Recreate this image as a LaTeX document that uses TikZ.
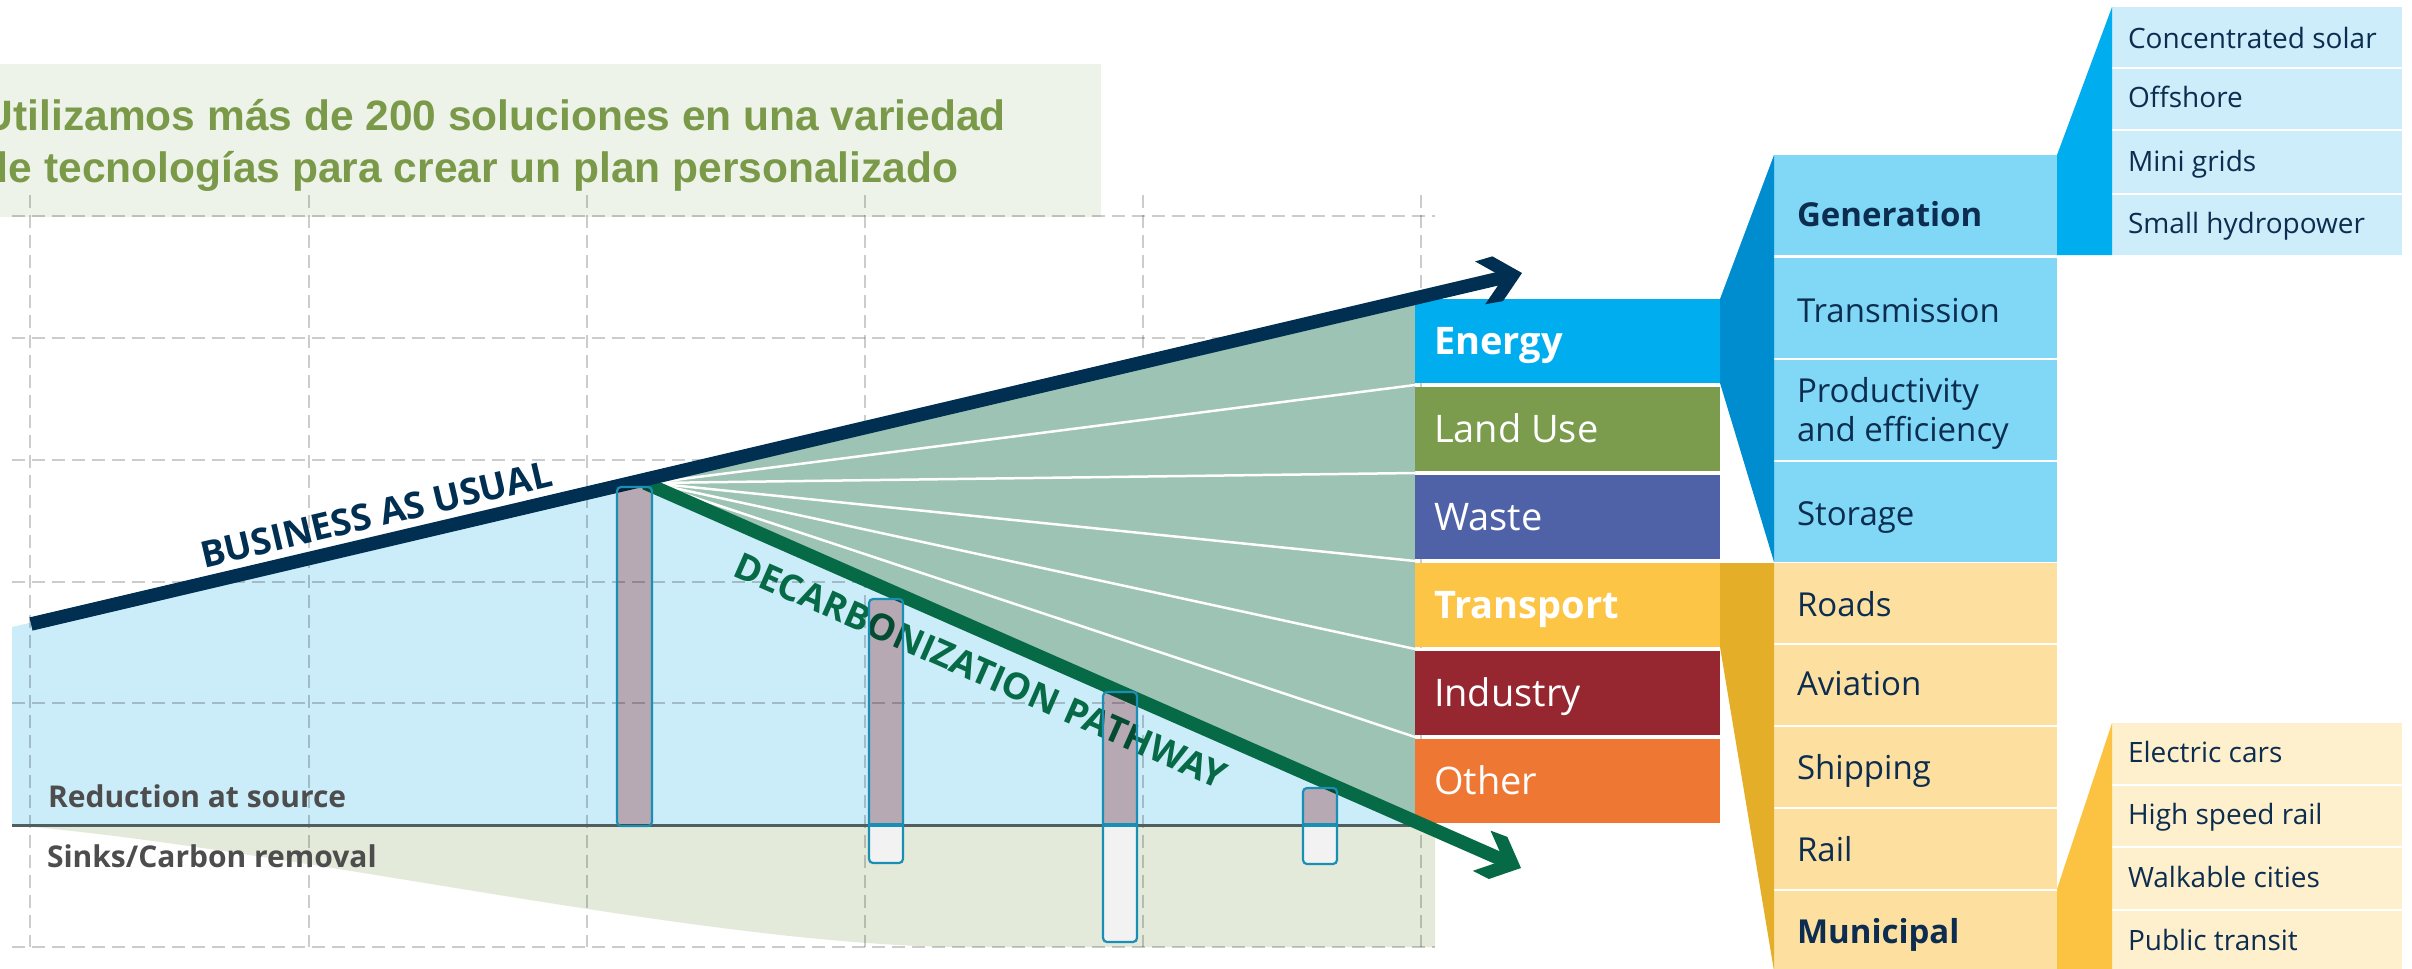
\documentclass[tikz,border=0pt]{standalone}
\usepackage{fontspec}
\newfontfamily\osans{Open Sans}
\newfontfamily\lsans{Liberation Sans}
\usetikzlibrary{calc}
\definecolor{cNavy}{HTML}{002F52}
\definecolor{cDecarb}{HTML}{056A45}
\definecolor{cFan}{HTML}{9CC3B4}
\definecolor{cBlue}{HTML}{CBECF9}
\definecolor{cLow}{HTML}{E3EADA}
\definecolor{cTitleBg}{HTML}{EDF3E8}
\definecolor{cTitle}{HTML}{7A9A4A}
\definecolor{cEnergy}{HTML}{00AEEF}
\definecolor{cLand}{HTML}{7B9B4D}
\definecolor{cWaste}{HTML}{4F62A8}
\definecolor{cTransport}{HTML}{FDC545}
\definecolor{cIndustry}{HTML}{96262F}
\definecolor{cOther}{HTML}{EE7733}
\definecolor{cEWedge}{HTML}{008DCF}
\definecolor{cESub}{HTML}{80D7F6}
\definecolor{cGWedge}{HTML}{00AEEF}
\definecolor{cGSub}{HTML}{CCEDF9}
\definecolor{cTWedge}{HTML}{E5AE28}
\definecolor{cTSub}{HTML}{FDE09F}
\definecolor{cMWedge}{HTML}{FCC343}
\definecolor{cMSub}{HTML}{FEF0CD}
\definecolor{cText}{HTML}{0C2D4F}
\definecolor{cGray}{HTML}{4D4D4D}
\definecolor{cBase}{HTML}{4F5F5F}
\definecolor{cBarMul}{RGB}{230,183,184}
\definecolor{cBarLow}{HTML}{F2F2F2}
\definecolor{cBarLine}{HTML}{1A8FB5}
\tikzset{
  plainbox/.style={rectangle, anchor=north west, draw=none, inner sep=0pt, outer sep=0pt},
  catbox/.style={plainbox, minimum width=305pt, minimum height=84pt},
  esub/.style={plainbox, fill=cESub, minimum width=283pt, minimum height=100pt},
  tsub/.style={plainbox, fill=cTSub, minimum width=283pt, minimum height=80pt},
  gsub/.style={plainbox, fill=cGSub, minimum width=290pt},
  msub/.style={plainbox, fill=cMSub, minimum width=290pt},
  gridline/.style={draw=black, draw opacity=0.2, line width=2.5pt, dash pattern=on 13pt off 7pt},
  fanline/.style={draw=white, line width=2.5pt},
  bauline/.style={draw=cNavy, line width=13.5pt},
  decline/.style={draw=cDecarb, line width=13.5pt},
  barmul/.style={fill=cBarMul, blend mode=multiply},
  barlow/.style={fill=cBarLow},
  barline/.style={draw=cBarLine, line width=2.2pt},
  titletext/.style={anchor=base west, text=cTitle, font=\lsans\bfseries\fontsize{42.5}{50}\selectfont},
  cattext/.style={anchor=base west, text=white, font=\osans\fontsize{38}{44}\selectfont},
  catbold/.style={anchor=base west, text=white, font=\osans\bfseries\fontsize{38}{44}\selectfont},
  subtext/.style={anchor=base west, text=cText, font=\osans\fontsize{33}{39}\selectfont},
  subbold/.style={anchor=base west, text=cText, font=\osans\bfseries\fontsize{33}{39}\selectfont},
  subsubtext/.style={anchor=base west, text=cText, font=\osans\fontsize{28}{33}\selectfont},
  pathlabel/.style={font=\osans\bfseries\fontsize{36.5}{42}\selectfont},
  regionlabel/.style={anchor=base west, text=cGray, font=\osans\bfseries\fontsize{30}{36}\selectfont},
}
\begin{document}
\begin{tikzpicture}[x=1pt,y=-1pt,every node/.style={inner sep=0pt,outer sep=0pt}]
\useasboundingbox (0,0) rectangle (2412,969);

% title
\node[plainbox, fill=cTitleBg, minimum width=1101pt, minimum height=153pt] (titlebox) at (0,64) {};
\node[titletext] (title1) at (-17,130) {Utilizamos más de 200 soluciones en una variedad};
\node[titletext] (title2) at (-17,182) {de tecnologías para crear un plan personalizado};

% key points
\coordinate (bauStart) at (31,624);
\coordinate (bauTip) at (1522,273);
\coordinate (decStart) at (645,483);
\coordinate (decTip) at (1521,868);
\coordinate (peak) at (651,483);

% regions
\fill[cBlue] (12,627) -- (650,478) -- (1423,825) -- (12,825) -- cycle;
\fill[cLow] (12,825) .. controls (300,850) and (700,945) .. (960,947) -- (1435,947) -- (1435,825) -- cycle;

% grid
\foreach \gx in {30,309,587,865,1143,1421} \draw[gridline] (\gx,195) -- (\gx,947);
\foreach \gy in {216,338,460,582,703,947} \draw[gridline] (12,\gy) -- (1435,\gy);

% baseline
\draw[cBase, line width=3pt] (12,825) -- (1423,825);

% fan
\fill[cFan] (peak) -- (1415,298) -- (1415,822) -- cycle;
\coordinate (g1) at (1415,385);
\coordinate (g2) at (1415,473);
\coordinate (g3) at (1415,561);
\coordinate (g4) at (1415,649);
\coordinate (g5) at (1415,737);
\foreach \g in {g1,g2,g3,g4,g5} \draw[fanline] (peak) -- (\g);

% category boxes
\node[catbox, fill=cEnergy] (energy) at (1415,299) {};
\node[catbox, fill=cLand] (landuse) at (1415,387) {};
\node[catbox, fill=cWaste] (waste) at (1415,475) {};
\node[catbox, fill=cTransport] (transport) at (1415,563) {};
\node[catbox, fill=cIndustry] (industry) at (1415,651) {};
\node[catbox, fill=cOther] (other) at (1415,739) {};

% energy sub column
\node[esub] (gen) at (1774,155) {};
\node[esub] (trans) at (1774,258) {};
\node[esub] (prod) at (1774,360) {};
\node[esub] (stor) at (1774,462) {};
% transport sub column
\node[tsub] (roads) at (1774,563) {};
\node[tsub] (avia) at (1774,645) {};
\node[tsub] (ship) at (1774,727) {};
\node[tsub] (rail) at (1774,809) {};
\node[tsub] (muni) at (1774,891) {};
% generation column
\node[gsub, minimum height=60pt] (csol) at (2112,7) {};
\node[gsub, minimum height=60pt] (offs) at (2112,69) {};
\node[gsub, minimum height=62pt] (mini) at (2112,131) {};
\node[gsub, minimum height=60pt] (hydro) at (2112,195) {};
% municipal column
\node[msub, minimum height=61pt] (ecars) at (2112,723) {};
\node[msub, minimum height=60pt] (hsr) at (2112,786) {};
\node[msub, minimum height=61pt] (walk) at (2112,848) {};
\node[msub, minimum height=60pt] (pubt) at (2112,911) {};

% wedges
\fill[cEWedge] (energy.north east) -- (gen.north west) -- (stor.south west) -- (energy.south east) -- cycle;
\fill[cTWedge] (transport.north east) -- (roads.north west) -- (muni.south west) -- (transport.south east) -- cycle;
\fill[cGWedge] (gen.north east) -- (csol.north west) -- (hydro.south west) -- (gen.south east) -- cycle;
\fill[cMWedge] ([yshift=2pt]muni.north east) -- (ecars.north west) -- (pubt.south west) -- (muni.south east) -- cycle;

% category texts
\node[catbold] (tEnergy) at (1434,354) {Energy};
\node[cattext] (tLand) at (1434,442) {Land Use};
\node[cattext] (tWaste) at (1434,530) {Waste};
\node[catbold] (tTransport) at (1434,618) {Transport};
\node[cattext] (tIndustry) at (1434,706) {Industry};
\node[cattext] (tOther) at (1434,794) {Other};

% sub texts
\node[subbold] (tGen) at (1797,226) {Generation};
\node[subtext] (tTrans) at (1797,322) {Transmission};
\node[subtext] (tProdA) at (1797,402) {Productivity};
\node[subtext] (tProdB) at (1797,441) {and efficiency};
\node[subtext] (tStor) at (1797,525) {Storage};
\node[subtext] (tRoads) at (1797,616) {Roads};
\node[subtext] (tAvia) at (1797,695) {Aviation};
\node[subtext] (tShip) at (1797,779) {Shipping};
\node[subtext] (tRail) at (1797,861) {Rail};
\node[subbold] (tMuni) at (1797,943) {Municipal};

% sub-sub texts
\node[subsubtext] (tCsol) at (2128,48) {Concentrated solar};
\node[subsubtext] (tOffs) at (2128,107) {Offshore};
\node[subsubtext] (tMini) at (2128,171) {Mini grids};
\node[subsubtext] (tHydro) at (2128,233) {Small hydropower};
\node[subsubtext] (tEcars) at (2128,762) {Electric cars};
\node[subsubtext] (tHsr) at (2128,824) {High speed rail};
\node[subsubtext] (tWalk) at (2128,887) {Walkable cities};
\node[subsubtext] (tPubt) at (2128,950) {Public transit};

% decarbonization pathway arrow
\draw[decline] (decStart) -- ($(decTip)!17pt!(decStart)$);
\begin{scope}[shift={(decTip)}, rotate=-23.73]
  \fill[cDecarb] (0,0) -- (-25,-23) -- (-43,-22) -- (-19,0) -- (-43,22) -- (-25,23) -- cycle;
\end{scope}
% business as usual arrow
\draw[bauline] (bauStart) -- ($(bauTip)!17pt!(bauStart)$);
\begin{scope}[shift={(bauTip)}, rotate=13.25]
  \fill[cNavy] (0,0) -- (-25,-23) -- (-43,-22) -- (-19,0) -- (-43,22) -- (-25,23) -- cycle;
\end{scope}

% path labels
\node[pathlabel, text=cNavy, rotate=13.25, anchor=base west] (bauLbl) at (204,568) {BUSINESS AS USUAL};
\node[pathlabel, text=cDecarb, rotate=-23.73, anchor=north west] (decLbl) at (742,551) {DECARBONIZATION PATHWAY};

% region labels
\node[regionlabel] (redLbl) at (48,807) {Reduction at source};
\node[regionlabel] (sinkLbl) at (47,867) {Sinks/Carbon removal};

% bars: upper parts
\fill[barmul] (617,826) [rounded corners=4pt] -- (617,487) -- (652,487) -- (652,826);
\fill[barmul] (869,825) [rounded corners=4pt] -- (869,599) -- (903,599) -- (903,825);
\fill[barmul] (1103,825) [rounded corners=4pt] -- (1103,692) -- (1137,692) -- (1137,825);
\fill[barmul] (1303,825) [rounded corners=4pt] -- (1303,788) -- (1337,788) -- (1337,825);
% bars: lower parts
\fill[barlow] (869,825) [rounded corners=4pt] -- (869,863) -- (903,863) -- (903,825);
\fill[barlow] (1103,825) [rounded corners=4pt] -- (1103,942) -- (1137,942) -- (1137,825);
\fill[barlow] (1303,825) [rounded corners=4pt] -- (1303,864) -- (1337,864) -- (1337,825);
% bars: outlines
\draw[barline, rounded corners=4pt] (617,487) rectangle (652,826);
\draw[barline, rounded corners=4pt] (869,599) rectangle (903,863);
\draw[barline, rounded corners=4pt] (1103,692) rectangle (1137,942);
\draw[barline, rounded corners=4pt] (1303,788) rectangle (1337,864);
\draw[barline, line width=3.5pt] (869,825) -- (903,825);
\draw[barline, line width=3.5pt] (1103,825) -- (1137,825);
\draw[barline, line width=3.5pt] (1303,825) -- (1337,825);
\end{tikzpicture}
\end{document}
